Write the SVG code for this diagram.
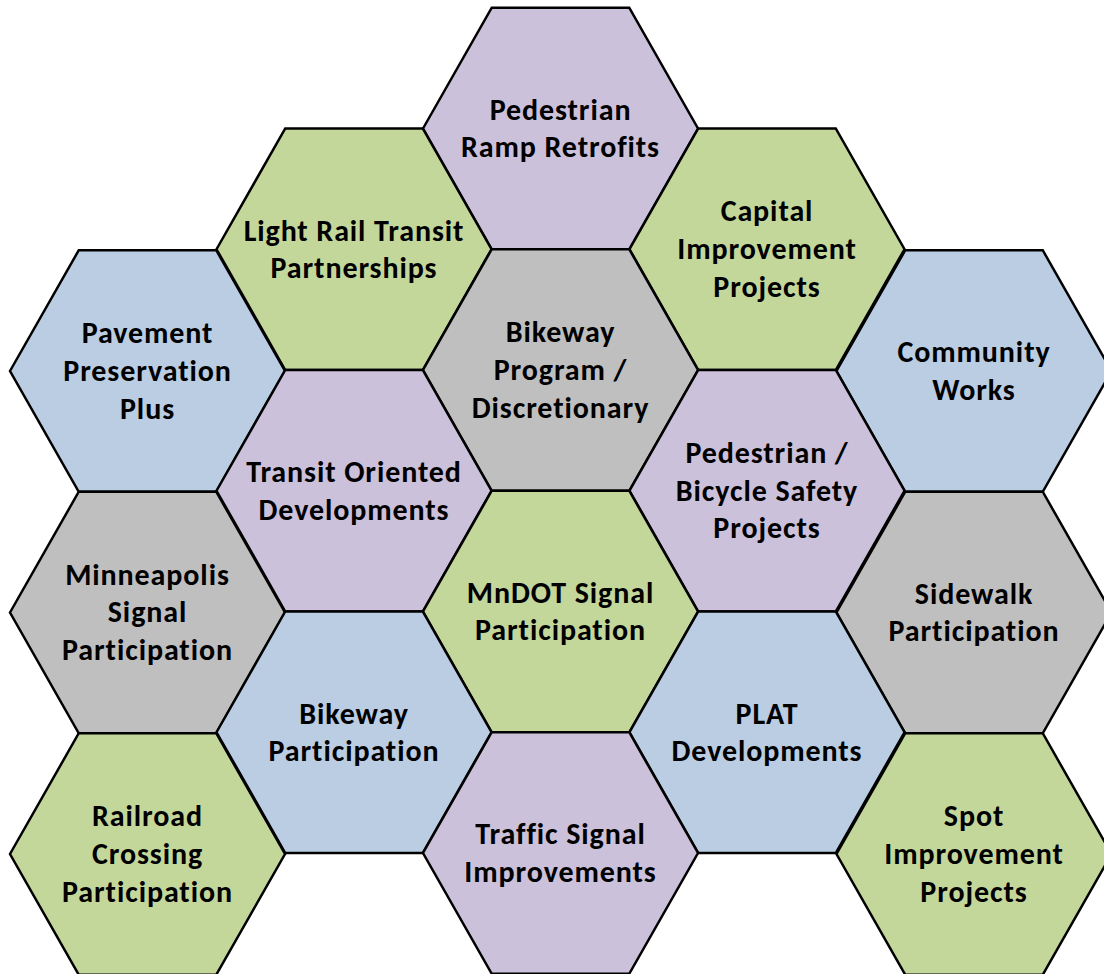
<svg xmlns="http://www.w3.org/2000/svg" width="1104" height="974" viewBox="0 0 1104 974">
<defs>
<style>
.hex{stroke:#000;stroke-width:2.5;stroke-linejoin:miter}
.p{fill:#CCC1DA}.g{fill:#C4D79B}.b{fill:#BACDE2}.y{fill:#BFBFBF}
text{font-family:Carlito,Lato,"Open Sans","Liberation Sans",sans-serif;font-weight:bold;font-size:30px;letter-spacing:0.9px;fill:#000;text-anchor:middle}
</style>
<polygon id="h" points="-137.5,0 -68.75,-120.75 68.75,-120.75 137.5,0 68.75,120.75 -68.75,120.75"/>
</defs>
<rect width="1104" height="974" fill="#fff"/>
<g id="n1" transform="translate(560.5,128.5)"><use href="#h" class="hex p"/><text y="-8.75">Pedestrian</text><text y="28.75">Ramp Retrofits</text></g>
<g id="n2" transform="translate(354,249.25)"><use href="#h" class="hex g"/><text y="-8.75">Light Rail Transit</text><text y="28.75">Partnerships</text></g>
<g id="n3" transform="translate(767,249.25)"><use href="#h" class="hex g"/><text y="-28">Capital</text><text y="9.75">Improvement</text><text y="47.5">Projects</text></g>
<g id="n4" transform="translate(147.5,371)"><use href="#h" class="hex b"/><text y="-28">Pavement</text><text y="9.75">Preservation</text><text y="47.5">Plus</text></g>
<g id="n5" transform="translate(560.5,370)"><use href="#h" class="hex y"/><text y="-28">Bikeway</text><text y="9.75">Program /</text><text y="47.5">Discretionary</text></g>
<g id="n6" transform="translate(974,371)"><use href="#h" class="hex b"/><text y="-8.75">Community</text><text y="28.75">Works</text></g>
<g id="n7" transform="translate(354,490.75)"><use href="#h" class="hex p"/><text y="-8.75">Transit Oriented</text><text y="28.75">Developments</text></g>
<g id="n8" transform="translate(767,490.75)"><use href="#h" class="hex p"/><text y="-28">Pedestrian /</text><text y="9.75">Bicycle Safety</text><text y="47.5">Projects</text></g>
<g id="n9" transform="translate(147.5,612.5)"><use href="#h" class="hex y"/><text y="-28">Minneapolis</text><text y="9.75">Signal</text><text y="47.5">Participation</text></g>
<g id="n10" transform="translate(560.5,611.5)"><use href="#h" class="hex g"/><text y="-8.75">MnDOT Signal</text><text y="28.75">Participation</text></g>
<g id="n11" transform="translate(974,612.5)"><use href="#h" class="hex y"/><text y="-8.75">Sidewalk</text><text y="28.75">Participation</text></g>
<g id="n12" transform="translate(354,732.25)"><use href="#h" class="hex b"/><text y="-8.75">Bikeway</text><text y="28.75">Participation</text></g>
<g id="n13" transform="translate(767,732.25)"><use href="#h" class="hex b"/><text y="-8.75">PLAT</text><text y="28.75">Developments</text></g>
<g id="n14" transform="translate(147.5,854)"><use href="#h" class="hex g"/><text y="-28">Railroad</text><text y="9.75">Crossing</text><text y="47.5">Participation</text></g>
<g id="n15" transform="translate(560.5,853)"><use href="#h" class="hex p"/><text y="-8.75">Traffic Signal</text><text y="28.75">Improvements</text></g>
<g id="n16" transform="translate(974,854)"><use href="#h" class="hex g"/><text y="-28">Spot</text><text y="9.75">Improvement</text><text y="47.5">Projects</text></g>
<g id="connectors"/>
</svg>
